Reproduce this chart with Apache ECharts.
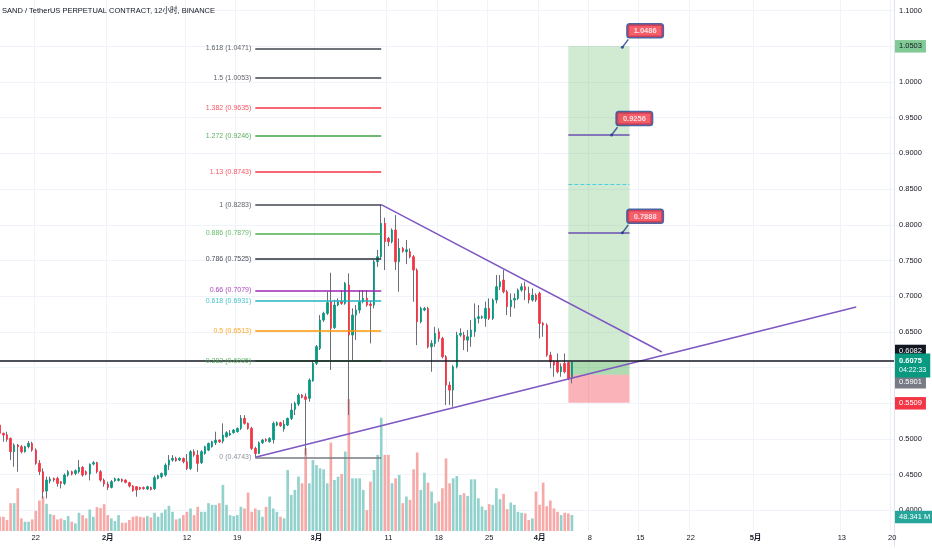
<!DOCTYPE html>
<html><head><meta charset="utf-8">
<script src="https://cdn.jsdelivr.net/npm/echarts@6/dist/echarts.min.js"></script>
<style>html,body{margin:0;padding:0;background:#fff;}#chart{width:932px;height:550px;}</style>
</head><body><div id="chart"></div>
<script>
const chartTitle = 'SAND / TetherUS PERPETUAL CONTRACT, 12小时, BINANCE';
const firstBarUTC = Date.UTC(2024, 0, 17, 0);
const barCount = 249;
const tickDates = ['2024-01-22','2024-02-01','2024-02-12','2024-02-19','2024-03-01','2024-03-11','2024-03-18','2024-03-25','2024-04-01','2024-04-08','2024-04-15','2024-04-22','2024-05-01','2024-05-13','2024-05-20'];
const tickLabels = ['22','2月','12','19','3月','11','18','25','4月','8','15','22','5月','13','20'];
const priceMin = 0.35, priceMax = 1.11485, priceStep = 0.05;

const opens = [.5196,.5079,.5060,.5009,.4822,.4915,.4892,.4822,.4892,.4939,
.4845,.4659,.4542,.4271,.4411,.4448,.4448,.4402,.4378,.4495,
.4542,.4518,.4542,.4602,.4542,.4509,.4649,.4668,.4542,.4425,
.4369,.4322,.4416,.4420,.4434,.4425,.4388,.4341,.4332,.4322,
.4320,.4299,.4322,.4304,.4448,.4472,.4495,.4635,.4705,.4729,
.4705,.4729,.4682,.4588,.4822,.4775,.4668,.4798,.4845,.4892,
.4948,.4985,.4970,.5032,.5055,.5088,.5102,.5149,.5289,.5219,
.5149,.4868,.4798,.4948,.4994,.4962,.4990,.5195,.5228,.5140,
.5195,.5289,.5415,.5489,.5616,.5592,.5569,.5816,.6059,.6269,
.6666,.6760,.6923,.6560,.6876,.6923,.6900,.7157,.6456,.6736,
.6806,.6923,.6970,.6890,.6876,.7484,.7553,.8020,.7810,.7763,
.7927,.7483,.7670,.7623,.7623,.7553,.7366,.6643,.6806,.6829,
.6292,.6339,.6502,.6409,.6152,.5755,.5685,.6012,.6455,.6455,
.6385,.6432,.6502,.6689,.6700,.6689,.6829,.6689,.6946,.7133,
.7226,.7063,.6853,.6946,.6969,.7086,.7133,.7039,.6946,.7016,
.7039,.6619,.6596,.6175,.6082,.6082,.5942,.6059,.6070,.5849];
const highs = [.5228,.5090,.5102,.5020,.4939,.4930,.4915,.4905,.4971,.4962,
.4869,.4705,.4588,.4472,.4472,.4460,.4472,.4410,.4518,.4565,
.4556,.4574,.4705,.4621,.4560,.4659,.4690,.4682,.4565,.4448,
.4402,.4425,.4460,.4455,.4448,.4435,.4400,.4355,.4340,.4330,
.4335,.4345,.4335,.4486,.4500,.4530,.4659,.4775,.4775,.4752,
.4745,.4740,.4789,.4845,.4855,.4845,.4845,.4905,.4950,.4975,
.5102,.4995,.5219,.5110,.5125,.5140,.5160,.5335,.5335,.5230,
.5172,.4892,.4965,.5000,.5010,.5025,.5242,.5245,.5240,.5265,
.5300,.5499,.5522,.5639,.5630,.5640,.5849,.6106,.6316,.6736,
.6783,.7063,.7329,.6950,.6970,.7087,.7200,.7320,.6830,.6876,
.7087,.7087,.7087,.6930,.7507,.7647,.8283,.8100,.7830,.7950,
.8137,.7810,.7690,.7787,.7670,.7576,.7390,.6853,.6850,.6853,
.6385,.6572,.6549,.6432,.6175,.5802,.6035,.6502,.6549,.6502,
.6525,.6666,.6899,.6876,.6730,.6923,.6969,.6969,.7296,.7296,
.7366,.7086,.7039,.7039,.7109,.7179,.7203,.7133,.7109,.7040,
.7063,.6640,.6619,.6222,.6100,.6199,.6059,.6199,.6082,.6082];
const lows = [.5060,.4962,.4962,.4705,.4612,.4542,.4799,.4810,.4869,.4822,
.4640,.4495,.4168,.4168,.4378,.4400,.4332,.4308,.4355,.4472,
.4490,.4495,.4518,.4472,.4490,.4420,.4630,.4518,.4402,.4332,
.4285,.4308,.4400,.4405,.4395,.4380,.4320,.4262,.4192,.4285,
.4290,.4285,.4280,.4285,.4435,.4448,.4472,.4565,.4682,.4682,
.4690,.4659,.4565,.4565,.4752,.4541,.4650,.4780,.4830,.4880,
.4915,.4945,.4938,.5020,.5045,.5075,.5090,.5125,.5200,.5130,
.4845,.4743,.4790,.4930,.4960,.4950,.4938,.5180,.5170,.5102,
.5180,.5265,.5335,.5461,.5570,.4770,.5522,.5802,.6036,.6246,
.6640,.6736,.5966,.6540,.6860,.6880,.6880,.5335,.6106,.6386,
.6760,.6900,.6853,.6339,.6830,.7410,.7530,.7366,.7700,.7740,
.7366,.7063,.7610,.7450,.7530,.6923,.6315,.6619,.6790,.6269,
.5942,.6292,.6362,.6129,.5475,.5475,.5452,.5989,.6430,.6245,
.6222,.6292,.6432,.6619,.6680,.6572,.6666,.6666,.6899,.7086,
.7039,.6736,.6712,.6829,.6946,.7063,.6946,.6899,.6923,.6920,
.6409,.6432,.6152,.5989,.5872,.5919,.5872,.5919,.5825,.5779];
const closes = [.5079,.5055,.4995,.4822,.4915,.4892,.4822,.4892,.4939,.4845,
.4659,.4542,.4262,.4425,.4439,.4425,.4378,.4378,.4495,.4542,
.4509,.4556,.4602,.4495,.4509,.4645,.4668,.4542,.4425,.4369,
.4322,.4402,.4444,.4439,.4411,.4392,.4341,.4276,.4285,.4299,
.4304,.4332,.4294,.4458,.4486,.4518,.4635,.4705,.4729,.4696,
.4729,.4682,.4588,.4822,.4775,.4658,.4822,.4892,.4938,.4962,
.4985,.4962,.5055,.5088,.5079,.5125,.5149,.5289,.5219,.5149,
.4868,.4798,.4948,.4985,.4976,.5008,.5219,.5228,.5186,.5209,
.5289,.5405,.5499,.5616,.5583,.5555,.5826,.6059,.6293,.6666,
.6760,.6909,.6550,.6876,.6923,.6900,.7180,.6456,.6736,.6806,
.6923,.6970,.6876,.6870,.7484,.7553,.8020,.7763,.7763,.7927,
.7483,.7670,.7630,.7650,.7553,.7366,.6643,.6829,.6829,.6292,
.6339,.6479,.6409,.6152,.5755,.5685,.6012,.6455,.6479,.6385,
.6432,.6525,.6689,.6712,.6712,.6829,.6689,.6946,.7133,.7203,
.7063,.6853,.6946,.6969,.7086,.7133,.7086,.6946,.7016,.6946,
.6619,.6596,.6175,.6082,.6035,.5942,.6012,.5942,.5849,.6075];
const volumes = [43,43,33,84,84,129,38,28,28,35,
61,92,104,82,51,48,35,38,33,45,
28,23,55,48,38,65,43,72,69,81,
48,38,30,48,25,25,33,43,45,43,
41,45,41,55,43,55,65,76,58,35,
38,48,58,68,48,73,58,58,84,79,
79,84,139,79,48,45,48,73,68,116,
58,68,63,43,73,104,68,58,43,38,
184,109,124,164,144,250,144,214,199,189,
186,144,267,154,164,172,240,398,159,159,
159,124,63,149,184,230,342,230,230,144,
159,169,84,104,94,186,237,124,176,146,
119,84,89,129,219,144,159,166,109,114,
106,156,156,99,74,63,81,79,129,96,
112,66,86,79,58,55,53,33,38,119,
79,146,75,92,68,58,48,55,53,48.341];
const volumeMax = 1603;

const fibRatios = [0, 0.382, 0.5, 0.618, 0.66, 0.786, 0.886, 1, 1.13, 1.272, 1.382, 1.5, 1.618];
const fibStart = ['2024-02-21 12:00', 0.4743];
const fibEnd = ['2024-03-10 00:00', 0.8283];
const upperTrend = [['2024-03-10 00:00', 0.8283], ['2024-04-18 00:00', 0.6218]];
const lowerTrend = [['2024-02-21 12:00', 0.4743], ['2024-05-15 00:00', 0.6849]];
const entryPrice = 0.6082, targetPrice = 1.0503, stopPrice = 0.5509, markPrice = 0.5901;
const positionSpan = ['2024-04-05 00:00', '2024-04-13 12:00'];
const noteLevels = [0.9256, 0.7888];
const dashedLevel = 0.8571;
const calloutTimes = ['2024-04-12 12:00', '2024-04-11 00:00', '2024-04-12 12:00'];
const calloutPrices = [1.0486, 0.9256, 0.7888];
const countdown = '04:22:33';
const hiddenPriceTicks = [0.35, 0.55, 0.60, 1.05];

// ---- styles ----
const UP = '#089981', DOWN = '#f23645', WICK = '#6b6e79';
const VOL_UP = '#92d2cc', VOL_DOWN = '#f7a9a7';
const fibColors = ['#787b86','#4caf50','#ff9800','#22b5bf','#9c27b0','#2a2e39','#4caf50','#434651','#f23645','#43a047','#f23645','#434651','#434651'];
const FONT = 'Liberation Sans, Noto Sans CJK SC, sans-serif';
const NAVY = '#1f3d8a';

const pad = n => String(n).padStart(2, '0');
const fmtBar = t => { const d = new Date(t); return d.getUTCFullYear() + '-' + pad(d.getUTCMonth() + 1) + '-' + pad(d.getUTCDate()) + ' ' + pad(d.getUTCHours()) + ':00'; };
const categories = Array.from({length: barCount}, (_, i) => fmtBar(firstBarUTC + i * 12 * 3600 * 1000));
const tickMap = new Map(tickDates.map((d, i) => [d + ' 00:00', tickLabels[i]]));
const isTick = (idx, val) => tickMap.has(val);

const wickData = opens.map((o, i) => [o, closes[i], lows[i], highs[i]]);
const bodyData = opens.map((o, i) => [o, closes[i], Math.min(o, closes[i]), Math.max(o, closes[i])]);
const volData = volumes.map((v, i) => ({value: v, itemStyle: {color: closes[i] >= opens[i] ? VOL_UP : VOL_DOWN}}));

const axisTag = (value, text, bg, fg, dy, extra) => Object.assign({
  yAxis: value,
  lineStyle: {color: 'transparent', width: 0},
  label: {show: true, position: 'end', distance: 1, formatter: text, backgroundColor: bg, color: fg,
    padding: [3, 4, 2, 4], fontSize: 7.5, fontFamily: FONT, offset: [0, dy]}
}, extra || {});

const fibLines = fibRatios.map((r, k) => {
  const p = fibStart[1] + r * (fibEnd[1] - fibStart[1]);
  return [
    {coord: [fibStart[0], p], lineStyle: {color: fibColors[k], width: 1.5, type: 'solid', opacity: 1},
     label: {show: true, position: 'start', distance: 4, formatter: r + ' (' + p.toFixed(4) + ')', color: fibColors[k], fontSize: 7, fontFamily: FONT, opacity: 0.85}},
    {coord: [fibEnd[0], p]}
  ];
});
const seg = (a, b, style) => [{coord: a, lineStyle: style}, {coord: b}];

const option = {
  animation: false,
  backgroundColor: '#fff',
  textStyle: {fontFamily: FONT},
  title: {text: chartTitle, left: 2, top: 7, padding: 0, textStyle: {fontSize: 7.5, fontWeight: 'normal', color: '#131722', fontFamily: FONT}},
  grid: [
    {left: -2, right: 38, top: 0, bottom: 3.9, outerBoundsMode: 'none', containLabel: false},
    {left: -2, right: 38, top: 0, bottom: 19, outerBoundsMode: 'none', containLabel: false}
  ],
  xAxis: [
    {type: 'category', data: categories, gridIndex: 0, show: false, boundaryGap: true},
    {type: 'category', data: categories, gridIndex: 1, boundaryGap: true,
     axisLine: {show: false}, axisTick: {show: false},
     axisLabel: {interval: isTick, margin: 3, fontSize: 7.5, color: '#131722', fontFamily: FONT,
       formatter: v => { const t = tickMap.get(v) || ''; return t.indexOf('月') >= 0 ? '{m|' + t + '}' : t; },
       rich: {m: {fontSize: 7.5, fontWeight: 'bold', color: '#131722', fontFamily: FONT}}},
     splitLine: {show: true, interval: isTick, lineStyle: {color: '#f0f3fa', width: 1}}}
  ],
  yAxis: [
    {type: 'value', gridIndex: 0, position: 'right', min: priceMin, max: priceMax, interval: priceStep,
     axisLine: {show: true, lineStyle: {color: '#e0e3eb'}}, axisTick: {show: false},
     axisLabel: {margin: 5, fontSize: 7.5, color: '#131722', fontFamily: FONT, showMaxLabel: false,
       formatter: v => hiddenPriceTicks.some(h => Math.abs(h - v) < 1e-6) ? '' : v.toFixed(4)},
     splitLine: {show: true, showMinLine: false, showMaxLine: false, lineStyle: {color: '#f0f3fa', width: 1}}},
    {type: 'value', gridIndex: 1, min: 0, max: volumeMax, show: false}
  ],
  series: [
    {type: 'line', xAxisIndex: 0, yAxisIndex: 0, data: [], z: 1, silent: true,
     markArea: {silent: true, data: [
       [{coord: [positionSpan[0], targetPrice], itemStyle: {color: 'rgba(76,175,80,0.26)'}}, {coord: [positionSpan[1], entryPrice]}],
       [{coord: [positionSpan[0], entryPrice], itemStyle: {color: 'rgba(76,175,80,0.45)'}}, {coord: [positionSpan[1], markPrice]}],
       [{coord: [positionSpan[0], markPrice], itemStyle: {color: 'rgba(242,54,69,0.38)'}}, {coord: [positionSpan[1], stopPrice]}]
     ]}},
    {type: 'bar', xAxisIndex: 1, yAxisIndex: 1, data: volData, barWidth: '74%', z: 1, silent: true,
     markLine: {silent: true, symbol: ['none', 'none'], data: [
       axisTag(volumes[volumes.length - 1], volumes[volumes.length - 1].toFixed(3) + ' M', '#26a69a', '#fff', 2)
     ]}},
    {type: 'candlestick', xAxisIndex: 0, yAxisIndex: 0, data: wickData, barWidth: 1, z: 2, silent: true,
     itemStyle: {color: WICK, color0: WICK, borderColor: WICK, borderColor0: WICK, borderWidth: 1}},
    {type: 'candlestick', xAxisIndex: 0, yAxisIndex: 0, data: bodyData, barWidth: 2, z: 3, silent: true,
     itemStyle: {color: UP, color0: DOWN, borderColor: UP, borderColor0: DOWN, borderWidth: 0.8}},
    {type: 'line', xAxisIndex: 0, yAxisIndex: 0, data: [], z: 4, silent: true,
     markLine: {silent: true, symbol: ['none', 'none'], label: {show: false},
       data: [
         ...fibLines,
         seg(upperTrend[0], upperTrend[1], {color: '#7e57c2', width: 1.5, type: 'solid'}),
         seg(lowerTrend[0], lowerTrend[1], {color: '#7e57c2', width: 1.5, type: 'solid'}),
         seg([positionSpan[0], noteLevels[0]], [positionSpan[1], noteLevels[0]], {color: '#6a4fb0', width: 1.5, type: 'solid'}),
         seg([positionSpan[0], noteLevels[1]], [positionSpan[1], noteLevels[1]], {color: '#6a4fb0', width: 1.5, type: 'solid'}),
         seg([positionSpan[0], dashedLevel], [positionSpan[1], dashedLevel], {color: '#4dd0e1', width: 1, type: 'dashed'}),
         axisTag(entryPrice, entryPrice.toFixed(4), '#131722', '#fff', -9.5, {lineStyle: {color: '#131722', width: 1.5, type: 'solid'}}),
         axisTag(targetPrice, targetPrice.toFixed(4), '#81c995', '#131722', 0),
         axisTag(markPrice, markPrice.toFixed(4), '#787b86', '#fff', 7.5),
         axisTag(stopPrice, stopPrice.toFixed(4), DOWN, '#fff', 0),
         {yAxis: closes[closes.length - 1], lineStyle: {color: 'transparent', width: 0},
          label: {show: true, position: 'end', distance: 1, offset: [0, 5],
            formatter: '{a|' + closes[closes.length - 1].toFixed(4) + '}\n{b|' + countdown + '}',
            backgroundColor: UP, padding: [2, 4, 2, 4],
            rich: {a: {fontSize: 7.5, color: '#fff', fontFamily: FONT, lineHeight: 10, fontWeight: 'bold'},
                   b: {fontSize: 7, color: '#fff', fontFamily: FONT, lineHeight: 10}}}}
       ]}},
    {type: 'scatter', xAxisIndex: 0, yAxisIndex: 0, z: 6, silent: true,
     data: calloutTimes.map((t, i) => [t, calloutPrices[i]]),
     symbol: 'path://M0,8L6,0', symbolSize: [6, 8], symbolOffset: [3, -4],
     itemStyle: {color: 'transparent', borderColor: NAVY, borderWidth: 1.5},
     label: {show: true, position: [6, -14], formatter: p => p.value[1].toFixed(4),
       backgroundColor: DOWN, borderColor: NAVY, borderWidth: 1.5, borderRadius: 2,
       padding: [3, 6, 2, 6], color: '#fff', fontSize: 7.5, fontWeight: 'bold', fontFamily: FONT}},
    {type: 'scatter', xAxisIndex: 0, yAxisIndex: 0, z: 6, silent: true,
     data: calloutTimes.map((t, i) => [t, calloutPrices[i]]),
     symbol: 'circle', symbolSize: 3, itemStyle: {color: NAVY}}
  ]
};
const chart = echarts.init(document.getElementById('chart'));
chart.setOption(option);
</script>
</body></html>
